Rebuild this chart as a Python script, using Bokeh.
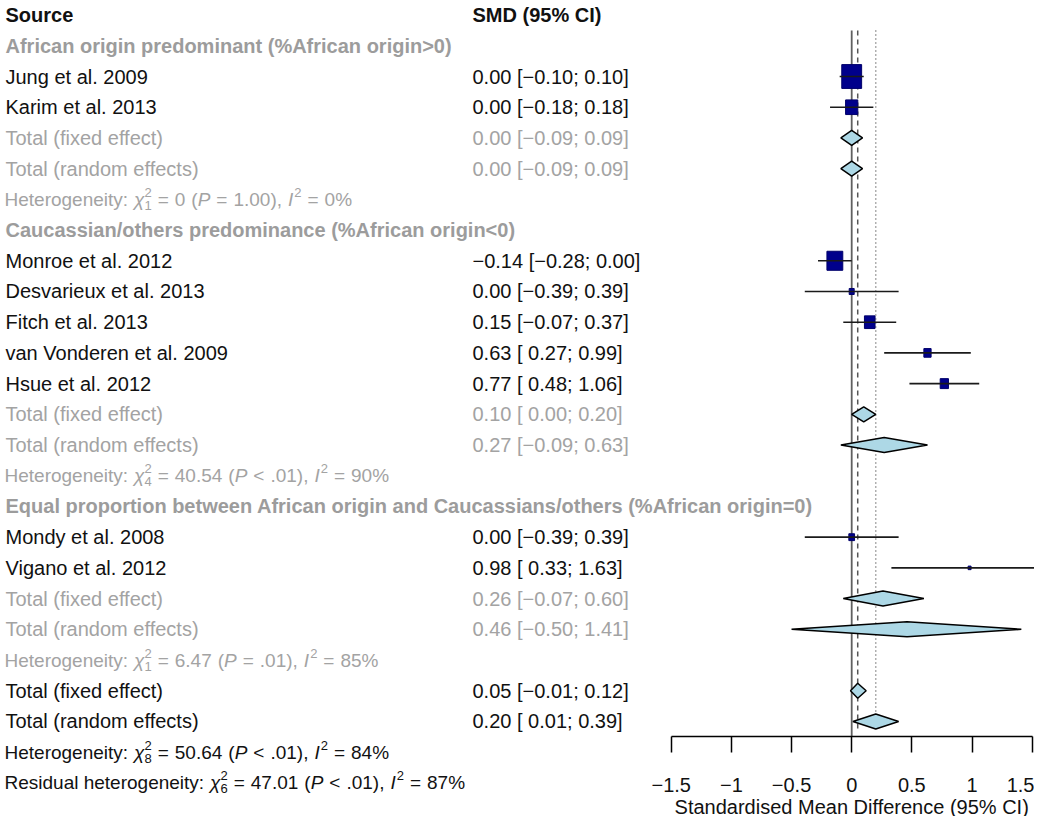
from bokeh.plotting import figure
from bokeh.models import Range1d, FixedTicker, Label
from bokeh.embed import file_html
from bokeh.resources import INLINE

# ---------------- data ----------------
group_names = [
    "African origin predominant (%African origin>0)",
    "Caucassian/others predominance (%African origin<0)",
    "Equal proportion between African origin and Caucassians/others (%African origin=0)",
]
study_names = [
    "Jung et al. 2009", "Karim et al. 2013",
    "Monroe et al. 2012", "Desvarieux et al. 2013", "Fitch et al. 2013",
    "van Vonderen et al. 2009", "Hsue et al. 2012",
    "Mondy et al. 2008", "Vigano et al. 2012",
]
study_group = [0, 0, 1, 1, 1, 1, 1, 2, 2]
study_smd = [0.00, 0.00, -0.14, 0.00, 0.15, 0.63, 0.77, 0.00, 0.98]
study_lower = [-0.10, -0.18, -0.28, -0.39, -0.07, 0.27, 0.48, -0.39, 0.33]
study_upper = [0.10, 0.18, 0.00, 0.39, 0.37, 0.99, 1.06, 0.39, 1.63]
study_weight = [36.2, 13.7, 23.1, 2.3, 10.3, 4.8, 6.3, 3.0, 0.8]

fixed_est = [0.00, 0.10, 0.26]
fixed_lower = [-0.09, 0.00, -0.07]
fixed_upper = [0.09, 0.20, 0.60]
random_est = [0.00, 0.27, 0.46]
random_lower = [-0.09, -0.09, -0.50]
random_upper = [0.09, 0.63, 1.41]
het_q = ["0", "40.54", "6.47"]
het_df = [1, 4, 1]
het_p = ["= 1.00", "< .01", "= .01"]
het_i2 = [0, 90, 85]

overall_fixed = [0.05, -0.01, 0.12]
overall_random = [0.20, 0.01, 0.39]
overall_het = ["50.64", 8, "< .01", 84]
resid_het = ["47.01", 6, "< .01", 87]

null_effect = 0.0
axis_ticks = [-1.5, -1.0, -0.5, 0.0, 0.5, 1.0, 1.5]
axis_title = "Standardised Mean Difference (95% CI)"

# ---------------- layout ----------------
W, H = 1034, 816
PX0, PXU = 851.2, 120.3          # x of SMD 0, px per SMD unit
ROW0, ROWH = 14.6, 30.71         # y of row 0, px per row
AXIS_Y = 736
FONT = "Liberation Sans"
BLACK = "#111111"
GRAY = "#a3a3a3"
HGRAY = "#9c9c9c"


def dx(px):
    return (px - PX0) / PXU


def ry(py):
    return (py - ROW0) / ROWH


p = figure(width=W, height=H, output_backend="svg", toolbar_location=None,
           x_range=Range1d(dx(0), dx(W)),
           y_range=Range1d(ry(H), ry(0)),
           y_axis_location=None, x_axis_location="below",
           min_border_left=0, min_border_right=0, min_border_top=0,
           min_border_bottom=0)
p.grid.visible = False
p.outline_line_color = None
p.background_fill_color = "white"
p.border_fill_color = "white"


def add_text(px, row, txt, size=20, style="normal", color=BLACK, dy_px=0.0,
             align="left"):
    p.add_layout(Label(x=dx(px), y=row + dy_px / ROWH, text=txt,
                       text_font=FONT, text_font_size=f"{size}px",
                       text_font_style=style, text_color=color,
                       text_baseline="middle", text_align=align))


ARIAL = {' ': 278, '%': 889, '(': 333, ')': 333, ',': 278, '.': 278, ':': 278,
         '<': 584, '=': 584, '>': 584, 'H': 722, 'I': 278, 'P': 667, 'R': 722,
         'a': 556, 'c': 500, 'd': 556, 'e': 556, 'g': 556, 'h': 556, 'i': 222,
         'l': 222, 'n': 556, 'o': 556, 'r': 333, 's': 500, 't': 278, 'u': 556,
         'y': 500, '\u03c7': 520}


def tw(s, size):
    return sum(ARIAL.get(c, 556) for c in s) * size / 1000.0


def run(x, row, s, size, style, color, dy=0.0):
    add_text(x, row, s, size, style, color, dy)
    return x + tw(s, size)


def het_line(row, prefix, q, df, pstr, i2, color):
    size, small, sp = 19, 13, 6.0
    x = 4.0
    x = run(x, row, prefix, size, "normal", color) + sp
    x = run(x, row, "\u03c7", size, "italic", color) + 0.5
    run(x, row, "2", small, "normal", color, -7)
    run(x, row, str(df), small, "normal", color, 6)
    x += tw("2", small) + sp
    x = run(x, row, "=", size, "normal", color) + sp
    x = run(x, row, q, size, "normal", color) + sp
    x = run(x, row, "(", size, "normal", color)
    x = run(x, row, "P", size, "italic", color) + sp
    op, val = pstr.split(" ")
    x = run(x, row, op, size, "normal", color) + sp
    x = run(x, row, val + "),", size, "normal", color) + sp
    x = run(x, row, "I", size, "italic", color) + 1
    x = run(x, row, "2", small, "normal", color, -7) + sp
    x = run(x, row, "=", size, "normal", color) + sp
    run(x, row, f"{i2}%", size, "normal", color)


def fmt(v, pad=False):
    s = f"{abs(v):.2f}"
    if v < 0:
        return "\u2212" + s
    return (" " + s) if pad else s


def ci_text(e, lo, hi):
    return f"{fmt(e)} [{fmt(lo, True)}; {fmt(hi)}]"


TX, CX = 5, 472
add_text(TX, 0, "Source", 20, "bold")
add_text(CX, 0, "SMD (95% CI)", 20, "bold")

study_row = []
dia_x, dia_y = [], []
r = 1
for g, gname in enumerate(group_names):
    add_text(TX, r, gname, 20, "bold", HGRAY)
    r += 1
    for i, name in enumerate(study_names):
        if study_group[i] != g:
            continue
        add_text(TX, r, name)
        add_text(CX, r, ci_text(study_smd[i], study_lower[i], study_upper[i]))
        study_row.append(r)
        r += 1
    for lab, e, lo, hi in (("Total (fixed effect)", fixed_est[g], fixed_lower[g], fixed_upper[g]),
                           ("Total (random effects)", random_est[g], random_lower[g], random_upper[g])):
        add_text(TX, r, lab, 20, "normal", GRAY)
        add_text(CX, r, ci_text(e, lo, hi), 20, "normal", GRAY)
        dia_x.append((e, lo, hi))
        dia_y.append(r)
        r += 1
    het_line(r, "Heterogeneity:", het_q[g], het_df[g], het_p[g], het_i2[g], GRAY)
    r += 1

for lab, vals in (("Total (fixed effect)", overall_fixed), ("Total (random effects)", overall_random)):
    add_text(TX, r, lab)
    add_text(CX, r, ci_text(*vals))
    dia_x.append(tuple(vals))
    dia_y.append(r)
    r += 1
het_line(r, "Heterogeneity:", *overall_het, BLACK)
r += 1
het_line(r, "Residual heterogeneity:", *resid_het, BLACK)

# ---------------- reference lines ----------------
top_r = 0.5
bot_r = ry(AXIS_Y)
p.segment(x0=[null_effect], y0=[top_r], x1=[null_effect], y1=[bot_r],
          line_color="#606060", line_width=1.8)
p.segment(x0=[overall_fixed[0]], y0=[top_r], x1=[overall_fixed[0]], y1=[bot_r - 0.25],
          line_color="#555555", line_width=1.5, line_dash="5 4")
p.segment(x0=[overall_random[0]], y0=[top_r], x1=[overall_random[0]], y1=[bot_r - 0.25],
          line_color="#555555", line_width=1.4, line_dash="1 3")

# ---------------- study squares + CIs ----------------
side = [3.3 * w ** 0.5 for w in study_weight]
p.rect(x=study_smd, y=study_row, width=side, height=[s * 1.2 for s in side],
       width_units="screen", height_units="screen",
       fill_color="#00008b", line_color="#00006a", line_width=1)
p.segment(x0=study_lower, y0=study_row, x1=study_upper, y1=study_row,
          line_color="#1a1a1a", line_width=1.6)

# ---------------- diamonds ----------------
hh = 7.5 / ROWH
xs = [[lo, e, hi, e] for (e, lo, hi) in dia_x]
ys = [[y, y - hh, y, y + hh] for y in dia_y]
p.patches(xs=xs, ys=ys, fill_color="#add8e6", line_color="#000000", line_width=1.5)

# ---------------- axis ----------------
ax = p.xaxis[0]
ax.fixed_location = bot_r
ax.ticker = FixedTicker(ticks=axis_ticks)
ax.bounds = (axis_ticks[0], axis_ticks[-1])
ax.major_label_overrides = {t: ("\u2212" if t < 0 else "") + f"{abs(t):g}" for t in axis_ticks}
ax.axis_line_color = "#000000"
ax.axis_line_width = 1.5
ax.major_tick_line_color = "#000000"
ax.major_tick_line_width = 1.5
ax.major_tick_out = 16
ax.major_tick_in = 0
ax.minor_tick_line_color = None
ax.major_label_text_font = FONT
ax.major_label_text_font_size = "20px"
ax.major_label_text_color = BLACK
ax.major_label_standoff = 25
add_text(PX0, ry(806), axis_title, 20, "normal", BLACK, align="center")

open("out.html", "w").write(file_html(p, INLINE))
